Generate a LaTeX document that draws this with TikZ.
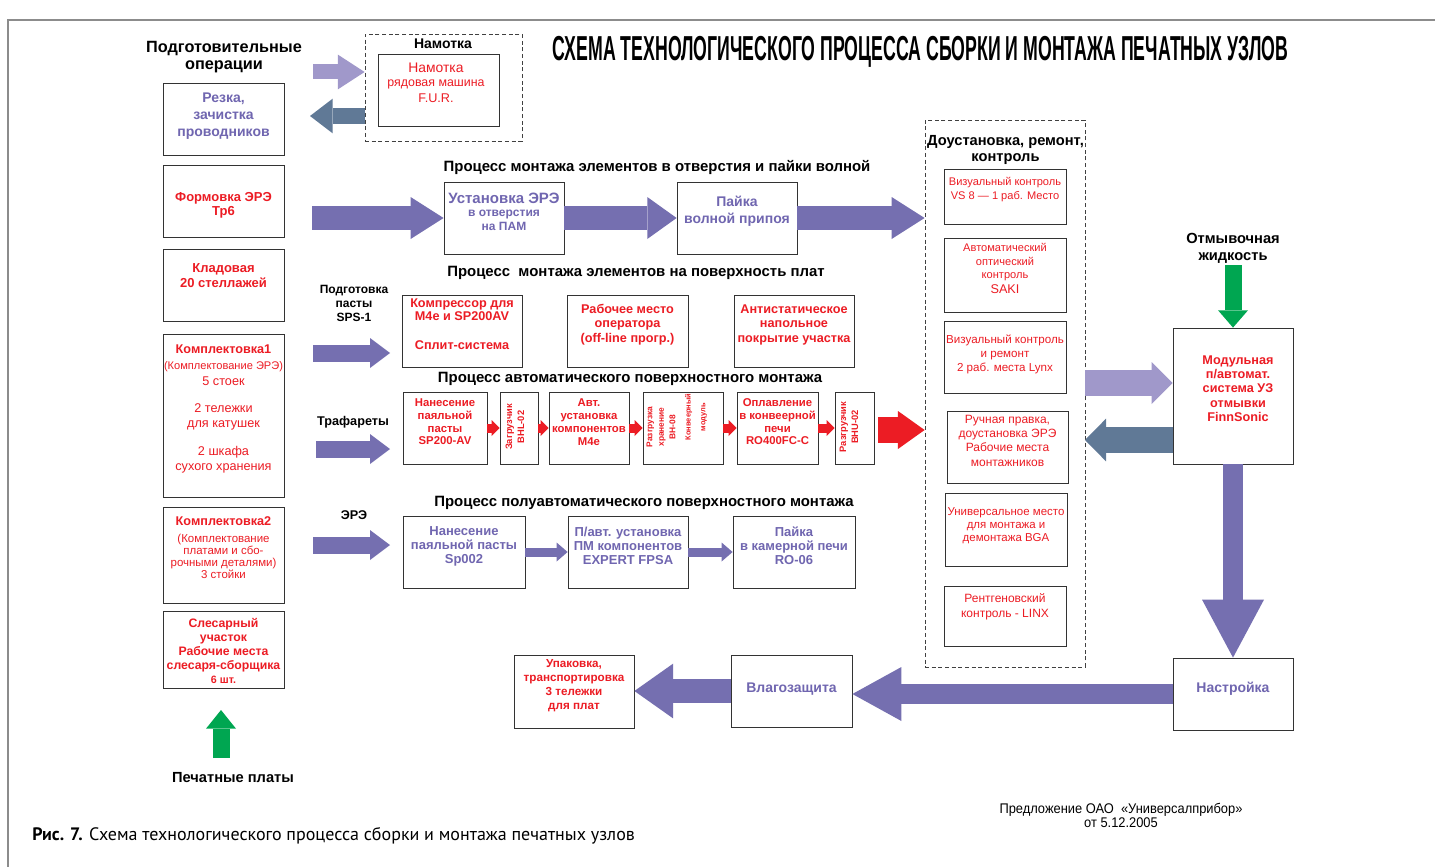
\documentclass[tikz,border=0pt]{standalone}
\usepackage{fontspec}
\setmainfont{Liberation Sans}
\newfontfamily\capfont{PT Sans}
\usetikzlibrary{fit,arrows.meta}
\definecolor{ptext}{RGB}{112,102,176}
\definecolor{parr}{RGB}{117,111,176}
\definecolor{larr}{RGB}{160,152,202}
\definecolor{sarr}{RGB}{96,121,150}
\definecolor{rtext}{RGB}{236,28,36}
\definecolor{garr}{RGB}{0,166,81}
\definecolor{framec}{RGB}{140,140,140}
\newcommand\hb[2]{\fontsize{#1}{#2}\selectfont\bfseries}
\newcommand\hn[2]{\fontsize{#1}{#2}\selectfont}
\newcommand\bx[5]{\path (#2,#3) coordinate (#1-nw) (#4,#5) coordinate (#1-se); \node[box, fit=(#1-nw)(#1-se)] (#1) {};}
\newcommand\dbx[5]{\path (#2,#3) coordinate (#1-nw) (#4,#5) coordinate (#1-se); \node[dbox, fit=(#1-nw)(#1-se)] (#1) {};}
\begin{document}
\begin{tikzpicture}[x=0.75pt,y=-0.75pt,
 box/.style={draw=black!80, line width=0.6pt, inner sep=0pt},
 dbox/.style={draw=black!75, line width=0.6pt, dash pattern=on 3pt off 2pt, inner sep=0pt},
 tx/.style={align=center, inner sep=0pt},
 rt/.style={text=rtext},
 pt/.style={text=ptext},
 hd/.style={tx, font=\hb{11.2}{12}},
 ba/.style n args={4}{draw=#4, line width=#1, -{Triangle[length=#2 0 0, width=#3 0 0, line width=0pt 0 0]}},
]
\useasboundingbox (0,0) rectangle (1435,867);
\fill[white] (0,0) rectangle (1435,867);
\draw[framec, line width=1.5pt] (8,867) -- (8,20) -- (1435,20);

% title
\node[tx, font=\hb{26}{26}] (title) at (920.5,52) {\scalebox{0.511}[1]{СХЕМА ТЕХНОЛОГИЧЕСКОГО ПРОЦЕССА СБОРКИ И МОНТАЖА ПЕЧАТНЫХ УЗЛОВ}};

% left column
\node[tx, font=\hb{12.2}{12.75}] (prep) at (224,57.5) {Подготовительные\\операции};
\bx{rez}{163}{83}{284}{155}
\node[tx, pt, font=\hb{10.5}{12.75}] (rez-t) at (223.5,116) {Резка,\\зачистка\\проводников};
\bx{form}{163}{165}{284}{237}
\node[tx, rt, font=\hb{9.75}{10.5}] (form-t) at (223.5,205) {Формовка ЭРЭ\\Тр6};
\bx{klad}{163}{249}{284}{321}
\node[tx, rt, font=\hb{9.75}{10.75}] (klad-t) at (223.5,275.5) {Кладовая\\20 стеллажей};
\bx{k1}{163}{334}{284}{497}
\node[tx, rt, font=\hb{9.5}{11}] (k1-t1) at (223.5,349) {Комплектовка1};
\node[tx, rt, font=\hn{8.3}{10}] (k1-t2) at (223.5,367) {(Комплектование ЭРЭ)};
\node[tx, rt, font=\hn{9.5}{11}] (k1-t3) at (223.5,381) {5 стоек};
\node[tx, rt, font=\hn{9.5}{11.25}] (k1-t4) at (223.5,416.5) {2 тележки\\для катушек};
\node[tx, rt, font=\hn{9.5}{11.25}] (k1-t5) at (223.5,459.5) {2 шкафа\\сухого хранения};
\bx{k2}{163}{507}{284}{603}
\node[tx, rt, font=\hb{9.5}{11}] (k2-t1) at (223.5,521) {Комплектовка2};
\node[tx, rt, font=\hn{8.6}{9}] (k2-t2) at (223.5,556) {(Комплектование\\платами и сбо-\\рочными деталями)\\3 стойки};
\bx{sles}{163}{611}{284}{688}
\node[tx, rt, font=\hb{9.2}{10.5}] (sles-t) at (223.5,650.5) {Слесарный\\участок\\Рабочие места\\слесаря-сборщика\\{\hb{8}{10.5}6 шт.}};
\coordinate (g1s) at (221,758);
\coordinate (g1e) at (221,710);
\draw[ba={12.75pt}{14pt}{22.5pt}{garr}] (g1s) -- (g1e);
\node[tx, font=\hb{11}{12}] (pp) at (233,778) {Печатные платы};

% Намотка
\dbx{namd}{365}{34}{522}{141}
\node[tx, font=\hb{10.5}{12}] (namd-t) at (443,44) {Намотка};
\bx{nam}{378}{54}{499}{126}
\node[tx, rt, font=\hn{10.4}{12}] (nam-t1) at (436,68) {Намотка};
\node[tx, rt, font=\hn{9.3}{12}] (nam-t2) at (436,84) {рядовая машина};
\node[tx, rt, font=\hn{9.5}{12}] (nam-t3) at (436,98) {F.U.R.};
\coordinate (na1) at (313,72);
\draw[ba={11.25pt}{20pt}{26pt}{larr}] (na1) -- (namd.west |- na1);
\coordinate (na2) at (310,116);
\draw[ba={12pt}{17pt}{26pt}{sarr}] (namd.west |- na2) -- (na2);

% dashed right box
\dbx{dk}{925}{120}{1085}{667}
\node[tx, font=\hb{11}{12}] (dk-t) at (1005.5,149.5) {Доустановка, ремонт,\\контроль};

% through-hole row
\node[hd] (h1) at (657,167) {Процесс монтажа элементов в отверстия и пайки волной};
\bx{ust}{444}{182}{564}{254}
\node[tx, pt, font=\hb{11.25}{12}] (ust-t1) at (504,198) {Установка ЭРЭ};
\node[tx, pt, font=\hb{9}{10.5}] (ust-t2) at (504,220) {в отверстия\\на ПАМ};
\bx{pay}{677}{182}{797}{254}
\node[tx, pt, font=\hb{10.5}{12.75}] (pay-t) at (737,211.5) {Пайка\\волной припоя};
\coordinate (a1s) at (312,218);
\draw[ba={18pt}{24.75pt}{31.5pt}{parr}] (a1s) -- (ust.west);
\draw[ba={18pt}{22pt}{31.5pt}{parr}] (ust.east) -- (pay.west);
\draw[ba={18pt}{24.75pt}{31.5pt}{parr}] (pay.east) -- (pay.east -| dk.west);

% surface row
\node[hd] (h2) at (636,273) {Процесс\ \ монтажа элементов на поверхность плат};
\node[tx, font=\hb{9}{10.5}] (sps) at (354,303) {Подготовка\\пасты\\SPS-1};
\coordinate (a2s) at (313,353);
\coordinate (a2e) at (390,353);
\draw[ba={12.75pt}{15pt}{22.5pt}{parr}] (a2s) -- (a2e);
\bx{komp}{402}{295}{522}{367}
\node[tx, rt, font=\hb{9.5}{10}] (komp-t1) at (462,310) {Компрессор для\\M4e и SP200AV};
\node[tx, rt, font=\hb{9.5}{10}] (komp-t2) at (462,345) {Сплит-система};
\bx{rab}{567}{295}{688}{367}
\node[tx, rt, font=\hb{9.5}{10.9}] (rab-t) at (627.5,324.5) {Рабочее место\\оператора\\(off-line прогр.)};
\bx{anti}{734}{295}{854}{367}
\node[tx, rt, font=\hb{9.5}{10.9}] (anti-t) at (794,324.5) {Антистатическое\\напольное\\покрытие участка};

% automatic row
\node[hd] (h3) at (630,379) {Процесс автоматического поверхностного монтажа};
\node[tx, font=\hb{9.5}{11}] (traf) at (353,422) {Трафареты};
\coordinate (a3s) at (316,449);
\coordinate (a3e) at (390,449);
\draw[ba={12.75pt}{15pt}{22.5pt}{parr}] (a3s) -- (a3e);
\bx{sp}{403}{392}{487}{464}
\node[tx, rt, font=\hb{8.5}{9.5}] (sp-t) at (445,422) {Нанесение\\паяльной\\пасты\\SP200-AV};
\bx{zag}{500}{392}{538}{464}
\node[tx, rt, font=\hb{7}{9}, rotate=90] (zag-t) at (515,427) {Загрузчик\\BHL-02};
\bx{avt}{549}{392}{629}{464}
\node[tx, rt, font=\hb{8.5}{9.75}] (avt-t) at (589,422.5) {Авт.\\установка\\компонентов\\M4e};
\bx{raz}{643}{392}{723}{464}
\node[tx, rt, font=\hb{6.3}{8.6}, rotate=90] (raz-t1) at (661,427) {Разгрузка\\хранение\\BH-08};
\node[tx, rt, font=\hb{5.6}{11}, rotate=90] (raz-t2) at (696,417) {Конвеерный\\модуль};
\bx{opl}{737}{392}{818}{464}
\node[tx, rt, font=\hb{8.5}{9.5}] (opl-t) at (777.5,422) {Оплавление\\в конвеерной\\печи\\RO400FC-C};
\bx{razg}{835}{392}{874}{464}
\node[tx, rt, font=\hb{7}{9}, rotate=90] (razg-t) at (849,427) {Разгрузчик\\BHU-02};
\draw[ba={6.75pt}{6pt}{12pt}{rtext}] (sp.east) -- (zag.west);
\draw[ba={6.75pt}{6pt}{12pt}{rtext}] (zag.east) -- (avt.west);
\draw[ba={6.75pt}{6pt}{12pt}{rtext}] (avt.east) -- (raz.west);
\draw[ba={6.75pt}{6pt}{12pt}{rtext}] (raz.east) -- (opl.west);
\draw[ba={6.75pt}{6pt}{12pt}{rtext}] (opl.east) -- (razg.west);
\coordinate (a4s) at (878,430);
\draw[ba={19.5pt}{20pt}{28.5pt}{rtext}] (a4s) -- (a4s -| dk.west);

% semi-automatic row
\node[hd] (h4) at (644,503) {Процесс полуавтоматического поверхностного монтажа};
\node[tx, font=\hb{9.5}{11}] (ere) at (354,515) {ЭРЭ};
\coordinate (a5s) at (313,545);
\coordinate (a5e) at (390,545);
\draw[ba={12.75pt}{15pt}{22.5pt}{parr}] (a5s) -- (a5e);
\bx{s1}{403}{516}{525}{588}
\node[tx, pt, font=\hb{9.75}{10.5}] (s1-t) at (464,546) {Нанесение\\паяльной пасты\\Sp002};
\bx{s2}{568}{516}{688}{588}
\node[tx, pt, font=\hb{9.75}{10.5}] (s2-t) at (628,546) {П/авт. установка\\ПМ компонентов\\EXPERT FPSA};
\bx{s3}{733}{516}{855}{588}
\node[tx, pt, font=\hb{9.75}{10.5}] (s3-t) at (794,546) {Пайка\\в камерной печи\\RO-06};
\draw[ba={6.75pt}{8.25pt}{14.25pt}{parr}] (s1.east) -- (s2.west);
\draw[ba={6.75pt}{8.25pt}{14.25pt}{parr}] (s2.east) -- (s3.west);

% inner boxes of dashed box
\bx{c1}{944}{169}{1066}{224}
\node[tx, rt, font=\hn{8.3}{10.5}] (c1-t) at (1005,190) {Визуальный контроль\\VS 8 — 1 раб. Место};
\bx{c2}{944}{238}{1066}{312}
\node[tx, rt, font=\hn{8.3}{10.1}] (c2-t1) at (1005,262.5) {Автоматический\\оптический\\контроль};
\node[tx, rt, font=\hn{9.5}{11}] (c2-t2) at (1005,289.5) {SAKI};
\bx{c3}{944}{321}{1066}{393}
\node[tx, rt, font=\hn{8.7}{10.5}] (c3-t) at (1005,354) {Визуальный контроль\\и ремонт\\2 раб. места Lynx};
\bx{c4}{947}{411}{1068}{483}
\node[tx, rt, font=\hn{9}{10.75}] (c4-t) at (1007.5,440.5) {Ручная правка,\\доустановка ЭРЭ\\Рабочие места\\монтажников};
\bx{c5}{945}{493}{1067}{566}
\node[tx, rt, font=\hn{8.6}{9.75}] (c5-t) at (1006,526) {Универсальное место\\для монтажа и\\демонтажа BGA};
\bx{c6}{944}{586}{1066}{646}
\node[tx, rt, font=\hn{9}{11}] (c6-t) at (1005,606.5) {Рентгеновский\\контроль - LINX};

% right side
\node[tx, font=\hb{11}{12.75}] (otm) at (1233,248.5) {Отмывочная\\жидкость};
\bx{mod}{1173}{328}{1293}{464}
\node[tx, rt, font=\hb{9.5}{10.7}] (mod-t) at (1238,388.5) {Модульная\\п/автомат.\\система УЗ\\отмывки\\FinnSonic};
\coordinate (gs) at (1233,265);
\draw[ba={12.75pt}{13pt}{22.5pt}{garr}] (gs) -- (gs |- mod.north);
\coordinate (r1) at (1085,383);
\draw[ba={20pt}{15.75pt}{31.5pt}{larr}] (r1) -- (r1 -| mod.west);
\coordinate (r2) at (1085,440);
\draw[ba={19.5pt}{15.75pt}{32pt}{sarr}] (r2 -| mod.west) -- (r2);
\bx{nas}{1173}{658}{1293}{730}
\node[tx, pt, font=\hb{10.5}{12}] (nas-t) at (1233,689) {Настройка};
\draw[ba={15pt}{43.5pt}{46.5pt}{parr}] (mod.south) -- (nas.north);
\bx{vla}{731}{655}{852}{727}
\node[tx, pt, font=\hb{10.5}{12}] (vla-t) at (791.5,689) {Влагозащита};
\draw[ba={15pt}{36.75pt}{40.5pt}{parr}] (nas.west) -- (nas.west -| vla.east);
\bx{upa}{514}{655}{634}{728}
\node[tx, rt, font=\hb{8.75}{10.5}] (upa-t) at (574,686) {Упаковка,\\транспортировка\\3 тележки\\для плат};
\draw[ba={18pt}{29pt}{41pt}{parr}] (vla.west) -- (vla.west -| upa.east);

% footer
\node[tx, font=\hn{10.5}{10.5}] (prop) at (1121,815) {\scalebox{0.92}[1]{Предложение ОАО\ \ «Универсалприбор»}\\\scalebox{0.92}[1]{от 5.12.2005}};
\node[anchor=west, inner sep=0pt, font=\capfont\fontsize{13.5}{15}\selectfont] (cap) at (32,836) {\textbf{Рис. 7.} Схема технологического процесса сборки и монтажа печатных узлов};
\end{tikzpicture}
\end{document}
